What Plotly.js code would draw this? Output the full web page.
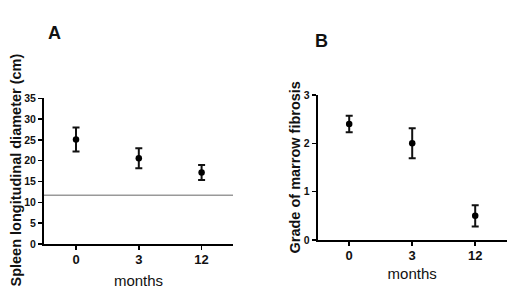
<!DOCTYPE html>
<html><head><meta charset="utf-8">
<script src="https://cdn.plot.ly/plotly-3.0.1.min.js"></script>
<style>html,body{margin:0;padding:0;background:#fff}#chart{width:520px;height:302px}</style>
</head><body><div id="chart"></div>
<script>
// Data
const months = ["0", "3", "12"];
const spleenMean = [25.1, 20.6, 17.2];
const spleenErr = [2.9, 2.4, 1.8];
const spleenNormal = 11.7;
const fibrosisMean = [2.4, 2.0, 0.5];
const fibrosisErr = [0.17, 0.31, 0.22];
const spleenTicks = [0, 5, 10, 15, 20, 25, 30, 35];
const fibrosisTicks = [0, 1, 2, 3];
const spleenTitle = 'Spleen longitudinal diameter (cm)';
const fibrosisTitle = 'Grade of marrow fibrosis';

const W = 520, H = 302;
const px = v => v / W;
const py = v => 1 - v / H;
const FONT = "Liberation Sans, Arial, sans-serif";

const errStyle = {type: 'data', visible: true, color: '#111', thickness: 2, width: 3.5};
const marker = {color: '#000', size: 6.5, symbol: 'circle'};

const traces = [
  {x: months, y: spleenMean, type: 'scatter', mode: 'markers', marker: marker,
   error_y: Object.assign({array: spleenErr}, errStyle), xaxis: 'x', yaxis: 'y', showlegend: false, hoverinfo: 'skip'},
  {x: months, y: fibrosisMean, type: 'scatter', mode: 'markers', marker: marker,
   error_y: Object.assign({array: fibrosisErr}, errStyle), xaxis: 'x2', yaxis: 'y2', showlegend: false, hoverinfo: 'skip'}
];

const xCommon = {
  type: 'category', showgrid: false, zeroline: false, showline: true, linecolor: '#000', linewidth: 2,
  ticks: 'outside', ticklen: 4, tickwidth: 1.5, tickcolor: '#000', ticklabelstandoff: -2,
  tickfont: {family: FONT, size: 13, color: '#111', weight: 'bold'},
  automargin: false, fixedrange: true
};
const yCommon = {
  showgrid: false, zeroline: false, showline: true, linecolor: '#000', linewidth: 2,
  ticks: 'outside', ticklen: 4, tickwidth: 1.5, tickcolor: '#000',
  tickfont: {family: FONT, size: 10.5, color: '#111', weight: 'bold'},
  automargin: false, fixedrange: true
};
const xTitleFont = {family: FONT, size: 15, color: '#111'};
const yTitleFont = {family: FONT, size: 14.5, color: '#111', weight: 'bold'};

const layout = {
  width: W, height: H,
  margin: {l: 0, r: 0, t: 0, b: 0},
  paper_bgcolor: '#fff', plot_bgcolor: '#fff',
  showlegend: false,
  xaxis: Object.assign({}, xCommon, {domain: [px(44), px(233)], range: [-0.51, 2.5], anchor: 'y',
    title: {text: 'months', font: xTitleFont, standoff: 10}}),
  yaxis: Object.assign({}, yCommon, {domain: [py(244), py(98.3)], range: [0, 35], tickvals: spleenTicks, anchor: 'x'}),
  xaxis2: Object.assign({}, xCommon, {domain: [px(317.7), px(506.7)], range: [-0.5, 2.5], anchor: 'y2',
    title: {text: 'months', font: xTitleFont, standoff: 7}}),
  yaxis2: Object.assign({}, yCommon, {domain: [py(240), py(95)], range: [0, 3], tickvals: fibrosisTicks, anchor: 'x2'}),
  shapes: [
    {type: 'line', xref: 'x domain', yref: 'y', x0: 0, x1: 1, y0: spleenNormal, y1: spleenNormal,
     line: {color: '#999', width: 1.5}}
  ],
  annotations: [
    {text: 'A', xref: 'paper', yref: 'paper', x: px(54), y: py(33), xanchor: 'center', yanchor: 'middle', showarrow: false,
     font: {family: FONT, size: 18, color: '#111', weight: 'bold'}},
    {text: 'B', xref: 'paper', yref: 'paper', x: px(321), y: py(41), xanchor: 'center', yanchor: 'middle', showarrow: false,
     font: {family: FONT, size: 18, color: '#111', weight: 'bold'}},
    {text: spleenTitle, textangle: -90, xref: 'paper', yref: 'paper', x: px(15), y: py(170.5),
     xanchor: 'center', yanchor: 'middle', showarrow: false, font: yTitleFont},
    {text: fibrosisTitle, textangle: -90, xref: 'paper', yref: 'paper', x: px(294), y: py(167.5),
     xanchor: 'center', yanchor: 'middle', showarrow: false, font: yTitleFont}
  ]
};

Plotly.newPlot('chart', traces, layout, {displayModeBar: false, staticPlot: true});
</script>
</body></html>
